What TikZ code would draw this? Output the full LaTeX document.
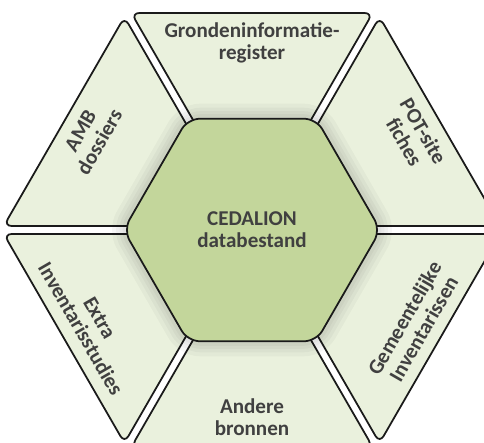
\documentclass[tikz,border=0pt]{standalone}
\usepackage{fontspec}
\setmainfont{Carlito}
\usetikzlibrary{shapes.geometric}
\definecolor{segfill}{HTML}{EAF1DD}
\definecolor{corefill}{HTML}{C3D69B}
\definecolor{ink}{HTML}{404040}
\definecolor{rim}{HTML}{1A1A1A}
\tikzset{
  segment/.style={draw=rim, fill=segfill, line width=1pt, rounded corners=0.16cm},
  seglabel/.style={text=ink, font=\bfseries\fontsize{12}{12.5}\selectfont, align=center, inner sep=0pt},
  glow/.style={draw=black, draw opacity=0.03, line width=#1, rounded corners=0.25cm},
  core/.style={regular polygon, regular polygon sides=6, minimum size=5.14cm,
    draw=rim, fill=corefill, line width=1pt, rounded corners=0.24cm, seglabel}
}

\begin{document}
\begin{tikzpicture}[x=0.02cm, y=0.02cm]
\useasboundingbox (0,0) rectangle (484,443);
\clip (0,0) rectangle (484,443);
\coordinate (ctr) at (252,213);
\foreach \a in {30,90,...,330}
  \draw[segment, shift={(ctr)}, rotate=\a-90] (-41.6,80) -- (-120.7,217) -- (120.7,217) -- (41.6,80) -- cycle;
\foreach \w in {0.6cm,0.44cm,0.3cm,0.18cm}
  \draw[glow=\w, shift={(ctr)}] (0:128.5) -- (60:128.5) -- (120:128.5) -- (180:128.5) -- (240:128.5) -- (300:128.5) -- cycle;
\node[core] (core) at (ctr) {CEDALION\\databestand};
\foreach \a/\txt in {90/{Grondeninformatie-\\register}, 150/{AMB\\dossiers}, 210/{Extra\\Inventarisstudies},
    270/{Andere\\bronnen}, 330/{Gemeentelijke\\Inventarissen}, 30/{POT-site\\fiches}} {
  \pgfmathsetmacro\rot{ifthenelse(\a<180,\a-90,\a-270)}
  \node[seglabel, rotate=\rot] (src-\a) at ([shift={(\a:187)}]ctr) {\txt};
}
\end{tikzpicture}
\end{document}
